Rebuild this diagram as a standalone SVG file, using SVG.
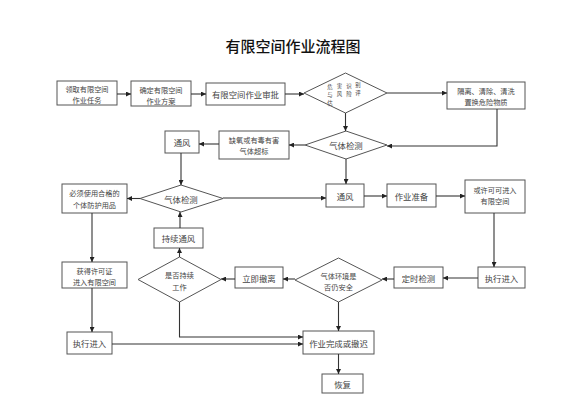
<svg xmlns="http://www.w3.org/2000/svg" width="588" height="412" viewBox="0 0 588 412">
<defs>
<marker id="ar" viewBox="0 0 6 6" refX="6" refY="3" markerWidth="5" markerHeight="5" markerUnits="userSpaceOnUse" orient="auto">
<path d="M0,0 L6,3 L0,6 z" fill="#222"/>
</marker>
</defs>
<style>
.b{fill:#fff;stroke:#555;stroke-width:1}
.t{font-family:"Noto Sans CJK SC","Noto Sans",sans-serif;fill:#444;text-anchor:middle;dominant-baseline:central}
.m{font-size:8.4px}
.s{font-size:7.2px}
.x{font-size:5.4px}
.c path{fill:none;stroke:#333;stroke-width:1.1;marker-end:url(#ar)}
</style>
<rect width="588" height="412" fill="#fff"/>
<text x="293" y="45" class="t" style="font-size:15px;fill:#111;font-weight:500">有限空间作业流程图</text>

<g id="n1"><rect class="b" x="57" y="81" width="60" height="24"/><text class="t s" x="87" y="89">领取有限空间</text><text class="t s" x="87" y="100">作业任务</text></g>
<g id="n2"><rect class="b" x="131" y="81" width="60" height="25"/><text class="t s" x="161" y="90">确定有限空间</text><text class="t s" x="161" y="101">作业方案</text></g>
<g id="n3"><rect class="b" x="206" y="83" width="79" height="22"/><text class="t m" x="245.5" y="94">有限空间作业审批</text></g>
<g id="n4"><polygon class="b" points="345.5,73 387,93 345.5,113 304,93"/>
<text class="t x" x="330" y="86.5">危</text><text class="t x" x="339.5" y="86">害</text><text class="t x" x="349" y="85.5">识</text><text class="t x" x="358" y="85">别</text>
<text class="t x" x="330" y="94.5">与</text><text class="t x" x="339.5" y="94">风</text><text class="t x" x="349" y="93.5">险</text><text class="t x" x="358" y="93">评</text>
<text class="t x" x="330" y="102.5">估</text></g>
<g id="n5"><rect class="b" x="447" y="82" width="78" height="27"/><text class="t s" x="486" y="91">隔离、清除、清洗</text><text class="t s" x="486" y="102">置换危险物质</text></g>
<g id="n6"><polygon class="b" points="346,131 387,145 346,159 305,145"/><text class="t m" x="346" y="145">气体检测</text></g>
<g id="n7"><rect class="b" x="219" y="131" width="70" height="28"/><text class="t s" x="254" y="139.5">缺氧或有毒有害</text><text class="t s" x="254" y="151">气体超标</text></g>
<g id="n8"><rect class="b" x="165" y="131" width="34" height="22"/><text class="t m" x="182" y="142">通风</text></g>
<g id="n9"><polygon class="b" points="181,185 223,198.5 181,212 140,198.5"/><text class="t m" x="181" y="198.5">气体检测</text></g>
<g id="n10"><rect class="b" x="62" y="184" width="65" height="29"/><text class="t s" x="94.5" y="192.5">必须使用合格的</text><text class="t s" x="94.5" y="204.5">个体防护用品</text></g>
<g id="n11"><rect class="b" x="326" y="184" width="38" height="23"/><text class="t m" x="345" y="195.5">通风</text></g>
<g id="n12"><rect class="b" x="387" y="184" width="49" height="23"/><text class="t m" x="411.5" y="195.5">作业准备</text></g>
<g id="n13"><rect class="b" x="465" y="180" width="60" height="33"/><text class="t s" x="495" y="190">或许可可进入</text><text class="t s" x="495" y="201">有限空间</text></g>
<g id="n14"><rect class="b" x="154" y="228" width="49" height="20"/><text class="t m" x="178.5" y="238">持续通风</text></g>
<g id="n15"><polygon class="b" points="179.5,257 221,279.5 179.5,302 138,279.5"/><text class="t s" x="179.5" y="275">是否持续</text><text class="t s" x="179.5" y="287">工作</text></g>
<g id="n16"><rect class="b" x="235" y="267" width="48" height="21"/><text class="t m" x="259" y="277.5">立即撤离</text></g>
<g id="n17"><polygon class="b" points="338.5,258 382,280 338.5,302 295,280"/><text class="t s" x="338.5" y="275.5">气体环境是</text><text class="t s" x="338.5" y="287">否仍安全</text></g>
<g id="n18"><rect class="b" x="394" y="267" width="49" height="21"/><text class="t m" x="418.5" y="277.5">定时检测</text></g>
<g id="n19"><rect class="b" x="478" y="267" width="47" height="21"/><text class="t m" x="501.5" y="277.5">执行进入</text></g>
<g id="n20"><rect class="b" x="62" y="262" width="65" height="26"/><text class="t s" x="94.5" y="271">获得许可证</text><text class="t s" x="94.5" y="282">进入有限空间</text></g>
<g id="n21"><rect class="b" x="67" y="332" width="45" height="22"/><text class="t m" x="89.5" y="343">执行进入</text></g>
<g id="n22"><rect class="b" x="303" y="331" width="71" height="23"/><text class="t m" x="338.5" y="342.5">作业完成或撤迟</text></g>
<g id="n23"><rect class="b" x="322" y="374" width="41" height="19"/><text class="t m" x="342.5" y="383.5">恢复</text></g>

<g id="connectors" class="c">
<path d="M117,94 H131"/>
<path d="M191,94 H206"/>
<path d="M285,94 H304"/>
<path d="M387,93 H447"/>
<path d="M345.5,113 V131"/>
<path d="M497,109 V146 H387"/>
<path d="M305,145 H289"/>
<path d="M219,144 H199"/>
<path d="M181,153 V185"/>
<path d="M223,198 H326"/>
<path d="M346,159 V184"/>
<path d="M364,196 H387"/>
<path d="M436,196 H465"/>
<path d="M494,213 V267"/>
<path d="M478,278 H443"/>
<path d="M394,279 H382"/>
<path d="M295,279 H283"/>
<path d="M235,279 H221"/>
<path d="M179.5,257 V248"/>
<path d="M180,228 V212"/>
<path d="M179.5,302 V337 H303"/>
<path d="M140,198.5 H127"/>
<path d="M92,213 V262"/>
<path d="M92,288 V332"/>
<path d="M112,344 H303"/>
<path d="M338.5,302 V331"/>
<path d="M338.5,354 V374"/>
</g>
</svg>
